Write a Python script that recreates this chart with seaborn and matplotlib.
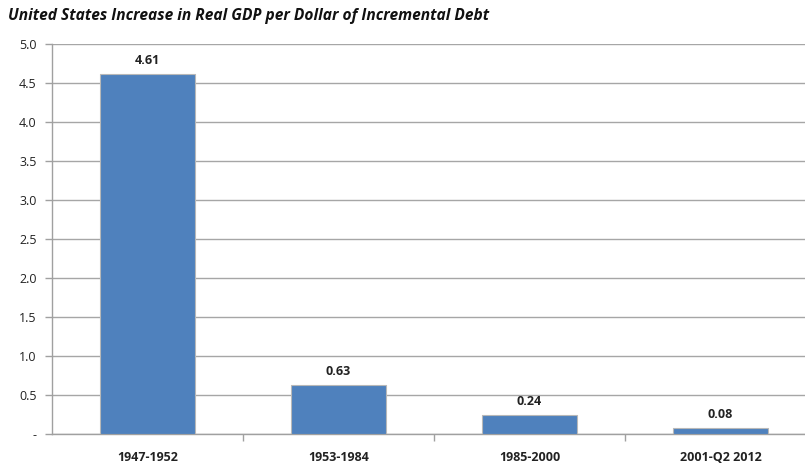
import matplotlib
matplotlib.use("Agg")
import matplotlib.pyplot as plt
import seaborn as sns
import pandas as pd

periods = ["1947-1952", "1953-1984", "1985-2000", "2001-Q2 2012"]
values = [4.61, 0.63, 0.24, 0.08]
value_labels = ["4.61", "0.63", "0.24", "0.08"]
y_ticks = [0, 0.5, 1.0, 1.5, 2.0, 2.5, 3.0, 3.5, 4.0, 4.5, 5.0]
y_tick_labels = ["-", "0.5", "1.0", "1.5", "2.0", "2.5", "3.0", "3.5", "4.0", "4.5", "5.0"]
title = "United States Increase in Real GDP per Dollar of Incremental Debt"

sns.set_theme(style="white")
plt.rcParams['font.family'] = ['Open Sans', 'DejaVu Sans']

df = pd.DataFrame({"period": periods, "value": values})

fig = plt.figure(figsize=(8.05, 4.65), dpi=100)
ax = fig.add_axes([52/805, 31/465, (805-52)/805, (434-44)/465])

sns.barplot(data=df, x="period", y="value", color="#4F81BD", width=0.5,
            edgecolor="#B8B8B8", linewidth=0.8, saturation=1, ax=ax, zorder=3)

ax.set_ylim(0, 5.0)
ax.set_xlim(-0.5, 3.5 - 11/191)
ax.set_yticks(y_ticks)
ax.set_yticklabels(y_tick_labels, fontsize=9, color="#222222")
ax.set_xticks(range(len(periods)))
ax.set_xticklabels(periods, fontsize=9, fontweight="bold", color="#222222")
ax.set_xlabel("")
ax.set_ylabel("")

ax.yaxis.grid(True, color="#A6A6A6", linewidth=1.0, zorder=0)
ax.xaxis.grid(False)
for s in ["top", "right"]:
    ax.spines[s].set_visible(False)
for s in ["left", "bottom"]:
    ax.spines[s].set_color("#A0A0A0")
    ax.spines[s].set_linewidth(1.0)

ax.tick_params(axis="y", which="major", left=True, length=5, width=1, color="#A0A0A0", pad=6)
ax.tick_params(axis="x", which="major", bottom=False, length=0, pad=12)
ax.set_xticks([0.5, 1.5, 2.5], minor=True)
ax.tick_params(axis="x", which="minor", bottom=True, length=5, width=1, color="#A0A0A0")

for i, (v, lab) in enumerate(zip(values, value_labels)):
    ax.annotate(lab, (i, v), xytext=(0, 5), textcoords="offset points",
                ha="center", va="bottom", fontsize=9, fontweight="bold", color="#222222")

fig.text(8/805, 1 - 16/465, title, fontsize=11.2, fontweight="bold", fontstyle="italic",
         ha="left", va="center", color="#111111")

fig.savefig("out.png", dpi=100)
